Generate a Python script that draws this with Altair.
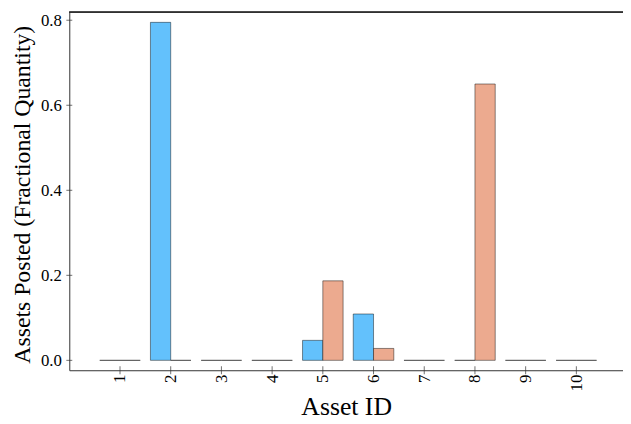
import altair as alt
import pandas as pd

asset_ids = [1, 2, 3, 4, 5, 6, 7, 8, 9, 10]
series_a = [0.0, 0.795, 0.0, 0.0, 0.047, 0.109, 0.0, 0.0, 0.0, 0.0]
series_b = [0.0, 0.0, 0.0, 0.0, 0.187, 0.028, 0.0, 0.65, 0.0, 0.0]
y_ticks = [0.0, 0.2, 0.4, 0.6, 0.8]
series_names = ["A", "B"]
series_colors = ["#63C1FC", "#ECAA8F"]

rows = []
for i, aid in enumerate(asset_ids):
    rows.append({"id": aid, "series": "A", "value": series_a[i]})
    rows.append({"id": aid, "series": "B", "value": series_b[i]})
df = pd.DataFrame(rows)
yt = pd.DataFrame({"t": y_ticks})
xt = pd.DataFrame({"t": asset_ids})

W, H = 560, 362
FONT = "Liberation Serif"

xscale = alt.Scale(domain=[0, 10.92], nice=False, zero=False)
yscale = alt.Scale(domain=[-0.0233, 0.8186], nice=False, zero=False)

bars = alt.Chart(df).transform_calculate(
    x0="datum.id + (datum.series == 'A' ? -0.4 : 0)",
    x1="datum.id + (datum.series == 'A' ? 0 : 0.4)",
).mark_bar(stroke="#000000", strokeOpacity=0.45, strokeWidth=1, opacity=1).encode(
    x=alt.X("x0:Q", scale=xscale,
            axis=alt.Axis(values=asset_ids, format="d", labelAngle=270, labelAlign="right",
                          labelBaseline="middle", labelPadding=4, tickSize=0, grid=False,
                          domainColor="#333333", labelFont=FONT, labelFontSize=17, labelColor="#000",
                          title="Asset ID", titleFont=FONT, titleFontSize=26, titleFontWeight="normal",
                          titleColor="#000", titleX=280, titleY=37, titleBaseline="middle",
                          titleAlign="center")),
    x2="x1:Q",
    y=alt.Y("value:Q", scale=yscale,
            axis=alt.Axis(values=y_ticks, format=".1f", tickSize=0, grid=False, labelPadding=8,
                          domainColor="#333333", labelFont=FONT, labelFontSize=17, labelColor="#000",
                          title="Assets Posted (Fractional Quantity)", titleFont=FONT,
                          titleFontSize=24, titleFontWeight="normal", titleColor="#000",
                          titleAngle=270, titleX=-47, titleY=184, titleBaseline="middle",
                          titleAlign="center")),
    y2=alt.Y2(datum=0),
    color=alt.Color("series:N", scale=alt.Scale(domain=series_names, range=series_colors), legend=None),
)

yticks = alt.Chart(yt).mark_tick(orient="horizontal", size=6, thickness=1, color="#333333").encode(
    y=alt.Y("t:Q", scale=yscale), x=alt.value(0)
)
xticks = alt.Chart(xt).mark_tick(orient="vertical", size=8, thickness=1, color="#333333").encode(
    x=alt.X("t:Q", scale=xscale), y=alt.value(H)
)
top = alt.Chart(xt).mark_rule(color="#333333", strokeWidth=1).encode(
    x=alt.value(0), x2=alt.value(W), y=alt.value(0)
)

chart = alt.layer(bars, yticks, xticks, top).properties(
    width=W, height=H,
    autosize=alt.AutoSizeParams(type="none"),
    padding={"left": 62, "top": 2, "right": 0, "bottom": 52},
).configure_view(stroke=None)

chart.save("out.html", embed_options={"renderer": "svg", "actions": False})
